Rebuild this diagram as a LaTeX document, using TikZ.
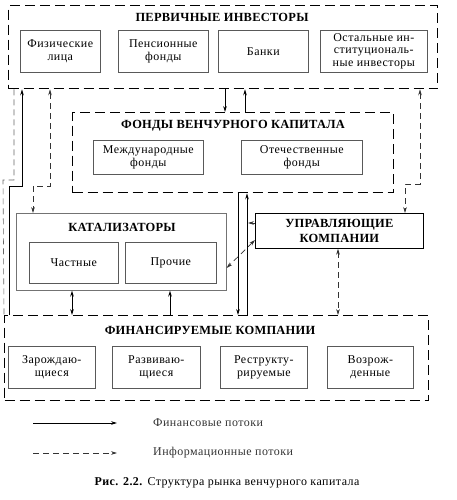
\documentclass[tikz,border=0pt]{standalone}
\usepackage{fontspec}
\setmainfont{Liberation Serif}
\usetikzlibrary{arrows.meta}
\newcommand\mysubfont{\fontsize{12}{13}\selectfont\addfontfeature{LetterSpace=4}}
\newcommand\myttlfont{\fontsize{12.5}{15}\selectfont\bfseries\addfontfeature{LetterSpace=2}}
\tikzset{
  grp/.style={draw=black, line width=1.3bp, dash pattern=on 10bp off 5bp, anchor=north west, inner sep=0pt},
  sub/.style={draw=black!65, line width=0.6bp, align=center, font=\mysubfont, inner sep=0pt, anchor=north west},
  ttl/.style={font=\myttlfont, inner sep=0pt},
  tip/.tip={Stealth[length=6bp,width=3.6bp]},
  fin/.style={draw=black, line width=0.9bp, -tip},
  finB/.style={draw=black, line width=0.9bp, tip-tip},
  info/.style={draw=black!80, line width=0.7bp, dash pattern=on 6bp off 4bp, -tip},
  infoB/.style={draw=black!80, line width=0.7bp, dash pattern=on 6bp off 4bp, tip-tip},
  infoN/.style={draw=black!60, line width=0.6bp, dash pattern=on 6bp off 4bp},
}
\begin{document}
\begin{tikzpicture}[x=1bp,y=-1bp]
\useasboundingbox (0,0) rectangle (457,500);

% Primary investors
\node[grp, minimum width=429bp, minimum height=83bp] (pi) at (8,5) {};
\node[ttl] (pit) at (222,17) {ПЕРВИЧНЫЕ ИНВЕСТОРЫ};
\node[sub, minimum width=80bp, minimum height=42bp] (b1) at (20,30) {Физические\\лица};
\node[sub, minimum width=90bp, minimum height=42bp] (b2) at (118,30) {Пенсионные\\фонды};
\node[sub, minimum width=90bp, minimum height=42bp] (b3) at (218,30) {Банки};
\node[sub, minimum width=107bp, minimum height=42bp] (b4) at (320,30) {Остальные ин-\\ституциональ-\\ные инвесторы};

% Venture funds
\node[grp, minimum width=321bp, minimum height=80bp] (vf) at (72,112) {};
\node[ttl] (vft) at (233,126) {ФОНДЫ ВЕНЧУРНОГО КАПИТАЛА};
\node[sub, minimum width=110bp, minimum height=34bp] (m1) at (93,140) {Международные\\фонды};
\node[sub, minimum width=121bp, minimum height=34bp] (m2) at (241,140) {Отечественные\\фонды};

% Catalysts
\node[draw=black!55, line width=0.6bp, minimum width=210bp, minimum height=77bp, anchor=north west, inner sep=0pt] (cat) at (16,213) {};
\node[ttl] (catt) at (122,227) {КАТАЛИЗАТОРЫ};
\node[sub, minimum width=89bp, minimum height=41bp] (c1) at (29,242) {Частные};
\node[sub, minimum width=91bp, minimum height=41bp] (c2) at (125,242) {Прочие};

% Managing companies
\node[draw=black, line width=0.7bp, minimum width=168bp, minimum height=35bp, anchor=north west, inner sep=0pt, align=center, font=\myttlfont] (mc) at (255,213) {УПРАВЛЯЮЩИЕ\\КОМПАНИИ};

% Financed companies
\node[grp, minimum width=424bp, minimum height=85bp] (fc) at (4,315) {};
\node[ttl] (fct) at (210,330) {ФИНАНСИРУЕМЫЕ КОМПАНИИ};
\node[sub, minimum width=87bp, minimum height=42bp] (f1) at (8,346) {Зарождаю-\\щиеся};
\node[sub, minimum width=88bp, minimum height=42bp] (f2) at (112,346) {Развиваю-\\щиеся};
\node[sub, minimum width=87bp, minimum height=42bp] (f3) at (220,346) {Реструкту-\\рируемые};
\node[sub, minimum width=86bp, minimum height=42bp] (f4) at (327,346) {Возрож-\\денные};

% Connectors
\draw[fin] (9,0 |- fc.north) |- (22,186) -- (22,0 |- pi.south);
\draw[infoN] (14,0 |- pi.south) |- (3,180) -- (fc.north west);
\draw[infoB] (50,0 |- pi.south) |- (33,186) -- (33,0 |- cat.north);
\draw[fin] (225,0 |- pi.south) -- (225,0 |- vf.north);
\draw[fin] (245,0 |- vf.north) -- (245,0 |- pi.south);
\draw[infoB] (420,0 |- pi.south) |- (405,184) -- (405,0 |- mc.north);
\draw[fin] (238,0 |- vf.south) -- (238,0 |- fc.north);
\draw[fin] (247,0 |- fc.north) -- (247,0 |- vf.south);
\coordinate (mcl) at (248,223);
\draw[info] (mc.west |- mcl) -- (mcl);
\draw[infoB] (mc.west |- 0,240) -- (cat.east |- 0,268);
\draw[infoB] (338,0 |- mc.south) -- (338,0 |- fc.north);
\draw[finB] (72,0 |- cat.south) -- (72,0 |- fc.north);
\draw[fin] (170,0 |- fc.north) -- (170,0 |- cat.south);

% Legend
\coordinate (l1a) at (33,423);
\coordinate (l1b) at (117,423);
\coordinate (l2a) at (33,453);
\coordinate (l2b) at (117,453);
\draw[fin] (l1a) -- (l1b);
\draw[info] (l2a) -- (l2b);
\node[anchor=west, font=\mysubfont, text=black!80, inner sep=0pt] (l1t) at (153,423) {Финансовые потоки};
\node[anchor=west, font=\mysubfont, text=black!80, inner sep=0pt] (l2t) at (153,453) {Информационные потоки};
\node[font=\mysubfont, inner sep=0pt] (cap) at (227,483) {\textbf{Рис. 2.2.} Структура рынка венчурного капитала};
\end{tikzpicture}
\end{document}
